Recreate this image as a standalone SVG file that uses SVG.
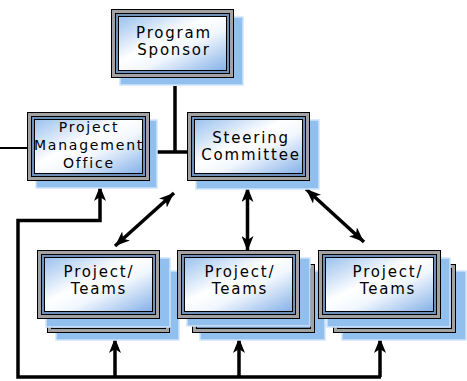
<svg xmlns="http://www.w3.org/2000/svg" xmlns:xlink="http://www.w3.org/1999/xlink" width="467" height="381" viewBox="0 0 467 381">
  <style>
    .shadow { fill: #92c0ee; stroke: #cfe4fb; stroke-width: 1.5; }
    .label { font-family: "DejaVu Sans", "Liberation Sans", sans-serif; font-size: 15px; letter-spacing: 1.8px; fill: #000; text-anchor: middle; }
    .small { font-size: 14px; }
    .wire { fill: none; stroke: #000; stroke-width: 3.5; stroke-linejoin: miter; }
    .thin { fill: none; stroke: #000; stroke-width: 2; }
  </style>
  <defs>
    <linearGradient id="fill" x1="0" y1="0" x2="1" y2="1">
      <stop offset="0" stop-color="#9cc2ee"/>
      <stop offset="0.42" stop-color="#ffffff"/>
      <stop offset="0.6" stop-color="#f2f7fe"/>
      <stop offset="1" stop-color="#86b2e8"/>
    </linearGradient>
    <!-- framed box: black rim, grey bevel, blue-grey inner ring, gradient face -->
    <symbol id="frame" viewBox="0 0 123 69" width="123" height="69" overflow="visible">
      <rect x="0" y="0" width="123" height="69" fill="#000"/>
      <rect x="1" y="1" width="121" height="67" fill="#a2a2a2"/>
      <rect x="4" y="4" width="115" height="61" fill="#000"/>
      <rect x="5" y="5" width="113" height="59" fill="#6d8fb8"/>
      <rect x="7" y="7" width="109" height="55" fill="#000"/>
      <rect x="8" y="8" width="107" height="53" fill="url(#fill)"/>
    </symbol>
    <marker id="head" markerUnits="userSpaceOnUse" markerWidth="16" markerHeight="12" viewBox="0 0 16 12" refX="15" refY="6" orient="auto-start-reverse">
      <path d="M0,0 L15,6 L0,12 L4,6 z" fill="#000"/>
    </marker>
  </defs>

  <!-- connectors -->
  <g id="connectors">
    <line class="thin" x1="0" y1="148" x2="28" y2="148"/>
    <line class="wire" x1="175" y1="86" x2="175" y2="152"/>
    <line class="wire" x1="157" y1="152" x2="188" y2="152"/>
    <polyline class="wire" points="381,377 18,377 18,220.5 100,220.5 100,186" marker-end="url(#head)"/>
    <line class="wire" x1="115" y1="377" x2="115" y2="338" marker-end="url(#head)"/>
    <line class="wire" x1="239" y1="377" x2="239" y2="338" marker-end="url(#head)"/>
    <line class="wire" x1="380" y1="377" x2="380" y2="338" marker-end="url(#head)"/>
    <line class="wire" x1="247.5" y1="187" x2="247.5" y2="251" marker-start="url(#head)" marker-end="url(#head)"/>
    <line class="wire" x1="174" y1="193" x2="115" y2="246" marker-start="url(#head)" marker-end="url(#head)"/>
    <line class="wire" x1="306" y1="189" x2="364" y2="242" marker-start="url(#head)" marker-end="url(#head)"/>
  </g>

  <g id="program-sponsor">
    <rect class="shadow" x="120" y="17" width="123" height="68"/>
    <use href="#frame" x="111" y="9"/>
    <text class="label" x="174" y="38">Program</text>
    <text class="label" x="174" y="55">Sponsor</text>
  </g>

  <g id="pmo">
    <rect class="shadow" x="36" y="120" width="121" height="68"/>
    <use href="#frame" x="27" y="112"/>
    <text class="label small" x="89" y="132">Project</text>
    <text class="label small" x="89" y="150">Management</text>
    <text class="label small" x="89" y="168">Office</text>
  </g>

  <g id="steering-committee">
    <rect class="shadow" x="196" y="120" width="123" height="69"/>
    <use href="#frame" x="187" y="112"/>
    <text class="label" x="251" y="143">Steering</text>
    <text class="label" x="251" y="160">Committee</text>
  </g>

  <g id="teams-1">
    <rect class="shadow" x="56" y="271" width="123" height="69"/>
    <use href="#frame" x="47" y="264"/>
    <rect class="shadow" x="46" y="258" width="124" height="69"/>
    <use href="#frame" x="37" y="250"/>
    <text class="label" x="99" y="277">Project/</text>
    <text class="label" x="99" y="294">Teams</text>
  </g>

  <g id="teams-2">
    <rect class="shadow" x="200" y="271" width="125" height="69"/>
    <use href="#frame" x="192" y="264"/>
    <rect class="shadow" x="187" y="258" width="123" height="68"/>
    <use href="#frame" x="177" y="250"/>
    <text class="label" x="240" y="277">Project/</text>
    <text class="label" x="240" y="294">Teams</text>
  </g>

  <g id="teams-3">
    <rect class="shadow" x="342" y="271" width="124" height="69"/>
    <use href="#frame" x="333" y="264"/>
    <rect class="shadow" x="327" y="258" width="123" height="69"/>
    <use href="#frame" x="318" y="250"/>
    <text class="label" x="388" y="277">Project/</text>
    <text class="label" x="388" y="294">Teams</text>
  </g>
</svg>
